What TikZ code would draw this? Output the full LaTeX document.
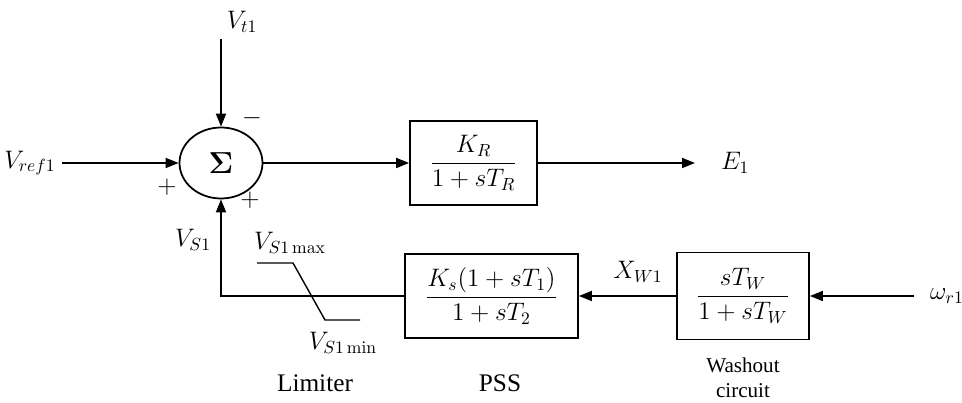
\documentclass[tikz,border=0pt]{standalone}
\usepackage{amsmath,amssymb}
\usepackage[no-math]{fontspec}
\setmainfont{Liberation Serif}
\usepackage{tikz}
\usetikzlibrary{positioning,arrows.meta,shapes.geometric,calc}

\begin{document}
\begin{tikzpicture}[font=\Large,
    block/.style={draw,line width=1pt,minimum width=#1,minimum height=1.68cm,inner sep=2pt},
    sig/.style={line width=1pt,-{Triangle[length=2.6mm,width=2mm]}}]
  \useasboundingbox (0,0) rectangle (19.24,8.06);
  \node[ellipse,draw,line width=1pt,minimum width=1.66cm,minimum height=1.42cm,font=\LARGE] (sum) at (4.42,4.80) {$\mathbf{\Sigma}$};
  \node[block=2.54cm] (kr) at (9.47,4.80) {$\dfrac{K_R}{1+sT_R}$};
  \node[block=3.46cm] (pss) at (9.83,2.14) {$\dfrac{K_s(1+sT_1)}{1+sT_2}$};
  \node[block=2.64cm,minimum height=1.74cm] (wash) at (14.86,2.14) {$\dfrac{sT_W}{1+sT_W}$};
  \node (vref) at (0.6,4.80) {$V_{ref1}$};
  \node (vt) at (4.84,7.62) {$V_{t1}$};
  \node[anchor=west] (e1) at (14.30,4.80) {$E_1$};
  \node[anchor=west] (wr) at (18.48,2.14) {$\omega_{r1}$};
  \coordinate (corner) at (4.42,2.14);
  \draw[sig] (vref) -- (sum);
  \draw[sig] (vt.south -| sum) -- (sum);
  \draw[sig] (sum) -- (kr);
  \draw[sig,shorten >=4mm] (kr) -- (e1);
  \draw[sig,shorten <=2mm] (wr) -- (wash);
  \draw[sig] (wash) -- (pss);
  \draw[sig] (pss.west) -- (corner) -- (sum);
  \node (minus) at (5.04,5.70) {$-$};
  \node (plusl) at (3.34,4.32) {$+$};
  \node (plusb) at (5.00,4.06) {$+$};
  \node (xw) at (12.76,2.62) {$X_{W1}$};
  \node (vs) at (3.86,3.26) {$V_{S1}$};
  \node (vmax) at (5.80,3.20) {$V_{S1\max}$};
  \node (vmin) at (6.86,1.20) {$V_{S1\min}$};
  \draw[line width=0.8pt] (5.14,2.80) -- (5.86,2.80) -- (6.50,1.66) -- (7.20,1.66);
  \node (lim) at (6.30,0.40) {Limiter};
  \node (psst) at (10.0,0.40) {PSS};
  \node[font=\large,align=center] (washt) at (14.86,0.50) {Washout\\circuit};
\end{tikzpicture}
\end{document}
